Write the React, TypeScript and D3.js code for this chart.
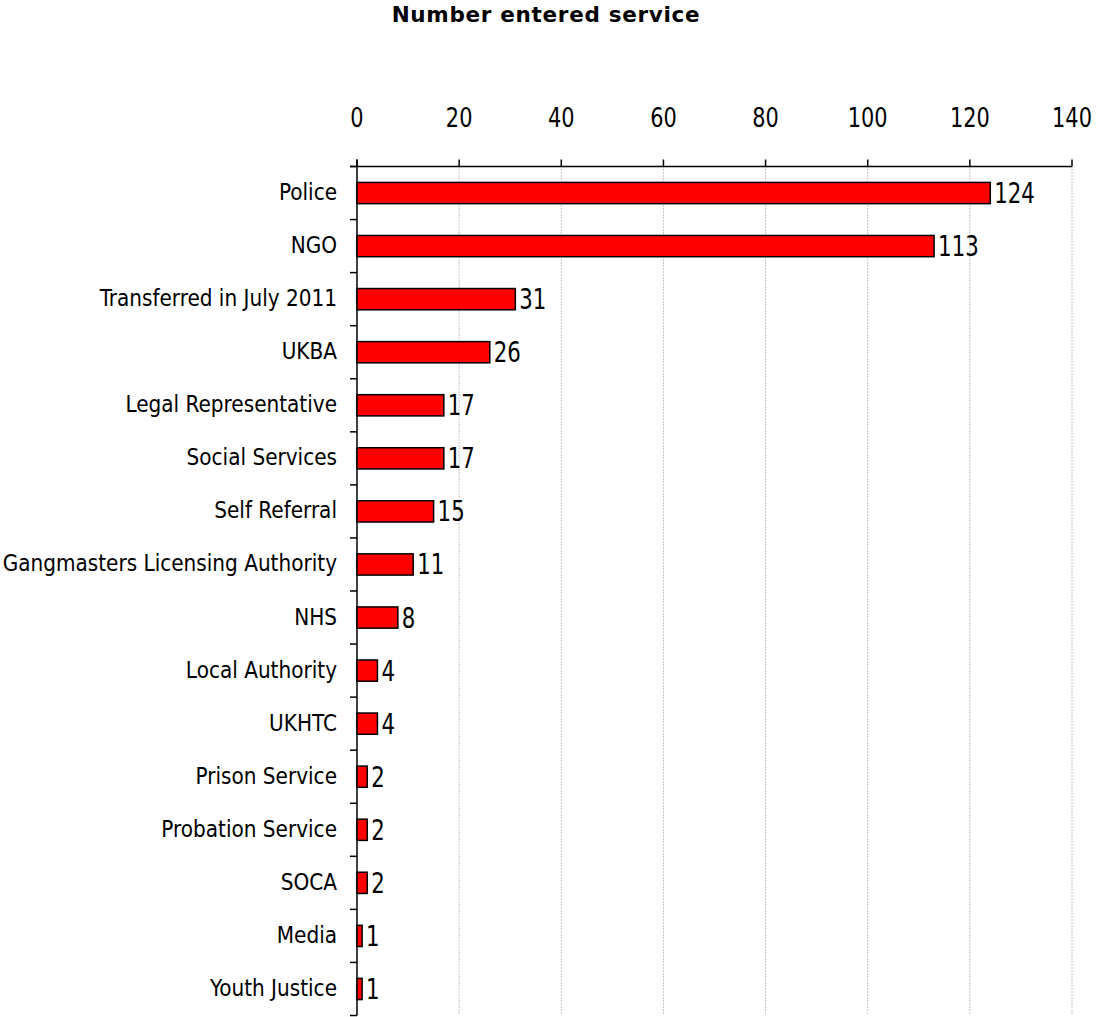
import React from "react";
import * as d3 from "d3";

const categories = [
  "Police",
  "NGO",
  "Transferred in July 2011",
  "UKBA",
  "Legal Representative",
  "Social Services",
  "Self Referral",
  "Gangmasters Licensing Authority",
  "NHS",
  "Local Authority",
  "UKHTC",
  "Prison Service",
  "Probation Service",
  "SOCA",
  "Media",
  "Youth Justice",
];
const values = [124, 113, 31, 26, 17, 17, 15, 11, 8, 4, 4, 2, 2, 2, 1, 1];
const xTicks = [0, 20, 40, 60, 80, 100, 120, 140];
const title = "Number entered service";

const W = 1097;
const H = 1017;
const left = 357;
const right = 1072;
const top = 166.5;
const bottom = 1015.5;
const font = "'DejaVu Sans Condensed', 'DejaVu Sans', sans-serif";

export default function App() {
  const x = d3.scaleLinear().domain([0, 140]).range([left, right]);
  const y = d3.scaleBand<string>().domain(categories).range([top, bottom]).paddingInner(0.6).paddingOuter(0.3);
  const step = y.step();
  const boundaries = d3.range(categories.length + 1).map((i) => top + i * step);

  return (
    <svg width={W} height={H} style={{ position: "absolute", left: 0, top: 0, background: "#fff" }}>
      <text
        x={546}
        y={22}
        textAnchor="middle"
        fontFamily="'DejaVu Sans', sans-serif"
        fontWeight="bold"
        fontSize={21.5}
        letterSpacing={0.7}
      >
        {title}
      </text>
      {xTicks.map((t) =>
        t === 0 ? null : (
          <line key={"g" + t} x1={x(t)} x2={x(t)} y1={top} y2={bottom} stroke="#888" strokeWidth={1} strokeDasharray="1,2" />
        )
      )}
      {xTicks.map((t) => (
        <g key={"t" + t}>
          <line x1={x(t)} x2={x(t)} y1={top - 7} y2={top} stroke="#000" strokeWidth={1.5} />
          <text
            transform={`translate(${x(t)},127) scale(0.86,1)`}
            textAnchor="middle"
            fontFamily={font}
            fontSize={27}
          >
            {t}
          </text>
        </g>
      ))}
      <line x1={left - 7} x2={right} y1={top} y2={top} stroke="#000" strokeWidth={1.5} />
      <line x1={left} x2={left} y1={top - 7} y2={bottom} stroke="#000" strokeWidth={1.5} />
      {boundaries.map((b, i) => (
        <line key={"b" + i} x1={left - 7} x2={left} y1={b} y2={b} stroke="#000" strokeWidth={1.5} />
      ))}
      {categories.map((c, i) => {
        const by = y(c)!;
        const bh = y.bandwidth();
        const cy = by + bh / 2;
        return (
          <g key={c}>
            <rect x={x(0)} y={by} width={x(values[i]) - x(0)} height={bh} fill="#ff0000" stroke="#000" strokeWidth={1.5} />
            <text x={left - 20} y={cy + 7} textAnchor="end" fontFamily={font} fontSize={22.3}>
              {c}
            </text>
            <text
              transform={`translate(${x(values[i]) + 4},${cy + 10}) scale(0.83,1)`}
              textAnchor="start"
              fontFamily={font}
              fontSize={28.5}
            >
              {values[i]}
            </text>
          </g>
        );
      })}
    </svg>
  );
}
